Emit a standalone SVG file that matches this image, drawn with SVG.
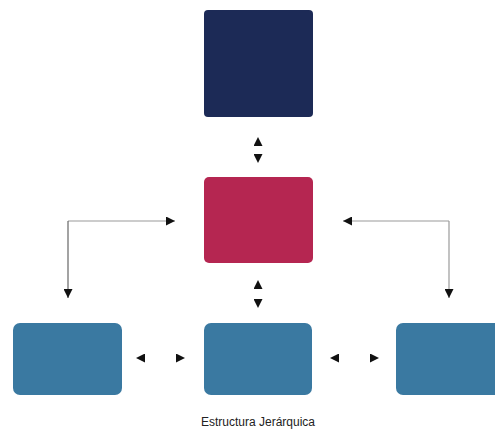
<svg xmlns="http://www.w3.org/2000/svg" width="495" height="433" viewBox="0 0 495 433">
<style>
.box{stroke:none}
.top{fill:#1c2a56}
.mid{fill:#b52651}
.bot{fill:#3a79a1}
.gap{fill:none;stroke:#fff;stroke-opacity:0;stroke-width:1}
.link{fill:none;stroke:#9a9a9a;stroke-width:1.2}
.link2{fill:none;stroke:#666;stroke-width:1.2}
.label{font-family:"Liberation Sans",Arial,sans-serif;font-size:12px;fill:#222;text-anchor:middle}
</style>
<defs>
<marker id="ah" viewBox="0 0 10 10" refX="10" refY="5" markerWidth="9" markerHeight="9" markerUnits="userSpaceOnUse" orient="auto-start-reverse">
<path d="M0,0 L10,5 L0,10 z" fill="#111"/>
</marker>
</defs>
<rect width="495" height="433" fill="#fff"/>
<g id="connectors">
<path class="gap" d="M258,137 L258,163" marker-start="url(#ah)" marker-end="url(#ah)"/>
<path class="gap" d="M258,280 L258,308" marker-start="url(#ah)" marker-end="url(#ah)"/>
<path class="gap" d="M136,358 L185,358" marker-start="url(#ah)" marker-end="url(#ah)"/>
<path class="gap" d="M330,358 L379,358" marker-start="url(#ah)" marker-end="url(#ah)"/>
<path class="link" d="M68,221 L175,221" marker-end="url(#ah)"/>
<path class="link2" d="M68,221 L68,298" marker-end="url(#ah)"/>
<path class="link" d="M449,221 L343,221" marker-end="url(#ah)"/>
<path class="link" d="M449,221 L449,298" marker-end="url(#ah)"/>
</g>
<g id="node-top"><rect class="box top" x="204" y="10" width="109" height="107" rx="4"/></g>
<g id="node-mid"><rect class="box mid" x="204" y="177" width="109" height="86" rx="5"/></g>
<g id="node-left"><rect class="box bot" x="13" y="323" width="109" height="72" rx="7"/></g>
<g id="node-center"><rect class="box bot" x="204" y="323" width="108" height="72" rx="7"/></g>
<g id="node-right"><rect class="box bot" x="396" y="323" width="109" height="72" rx="7"/></g>
<text class="label" x="258" y="426">Estructura Jerárquica</text>
</svg>
